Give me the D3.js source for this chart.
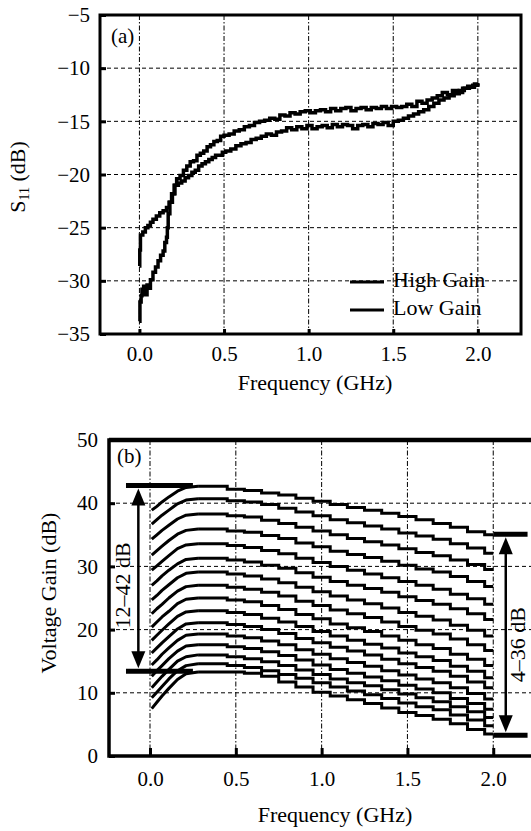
<!DOCTYPE html>
<html>
<head>
<meta charset="utf-8">
<script src="https://cdn.jsdelivr.net/npm/d3@7"></script>
<style>
  body { margin: 0; background: #fff; }
  svg { display: block; }
</style>
</head>
<body>
<div id="chart-wrapper"></div>
<script>
// ---------- panel (a): S11 ----------
const legendLabels = ["High Gain", "Low Gain"];
const s11Ticks = [-35, -30, -25, -20, -15, -10, -5];
const freqTicks = [0, 0.5, 1.0, 1.5, 2.0];

// upper trace
const highFreq = [0, 0.002, 0.006, 0.02, 0.035, 0.05, 0.065, 0.08, 0.1, 0.12, 0.14, 0.16, 0.175, 0.19, 0.205,
  0.22, 0.24, 0.26, 0.28, 0.3, 0.32, 0.34, 0.36, 0.38, 0.4, 0.42, 0.44, 0.46, 0.48, 0.5, 0.53, 0.56, 0.59,
  0.62, 0.65, 0.68, 0.71, 0.74, 0.77, 0.8, 0.83, 0.86, 0.89, 0.92, 0.95, 0.98, 1.01, 1.04, 1.07, 1.1, 1.13,
  1.16, 1.19, 1.22, 1.25, 1.28, 1.31, 1.34, 1.37, 1.4, 1.43, 1.46, 1.49, 1.52, 1.55, 1.58, 1.61, 1.64, 1.67,
  1.7, 1.73, 1.76, 1.79, 1.82, 1.85, 1.88, 1.91, 1.94, 1.97, 2.0];
const highDb = [-28.6, -27.1, -25.7, -25.4, -25.0, -24.8, -24.5, -24.2, -23.9, -23.6, -23.4, -23.1, -22.6, -21.8, -21.0,
  -20.4, -20.1, -19.6, -19.2, -18.8, -18.7, -18.2, -18.0, -17.8, -17.4, -17.2, -16.9, -16.8, -16.4, -16.3, -16.2, -15.9, -15.8,
  -15.5, -15.4, -15.1, -15.0, -14.9, -14.7, -14.8, -14.4, -14.5, -14.2, -14.3, -14.1, -14.0, -14.2, -14.0, -13.9, -14.1, -13.8,
  -14.0, -13.8, -13.7, -14.0, -13.8, -13.7, -13.9, -13.7, -13.8, -13.6, -13.8, -13.6, -13.7, -13.6, -13.4, -13.6, -13.1, -13.3,
  -13.0, -12.8, -12.6, -12.3, -12.5, -12.1, -12.3, -11.9, -11.7, -11.6, -11.5];

// lower trace
const lowFreq = [0, 0.003, 0.01, 0.015, 0.025, 0.035, 0.045, 0.055, 0.065, 0.08, 0.095, 0.11, 0.125, 0.14, 0.15,
  0.16, 0.165, 0.17, 0.18, 0.195, 0.21, 0.23, 0.25, 0.27, 0.29, 0.31, 0.33, 0.35, 0.37, 0.39, 0.41, 0.43, 0.45,
  0.47, 0.49, 0.51, 0.54, 0.57, 0.6, 0.63, 0.66, 0.69, 0.72, 0.75, 0.78, 0.81, 0.84, 0.87, 0.9, 0.93, 0.96,
  0.99, 1.02, 1.05, 1.08, 1.11, 1.14, 1.17, 1.2, 1.23, 1.26, 1.29, 1.32, 1.35, 1.38, 1.41, 1.44, 1.47, 1.5,
  1.53, 1.56, 1.59, 1.62, 1.65, 1.68, 1.71, 1.74, 1.77, 1.8, 1.83, 1.86, 1.89, 1.92, 1.95, 1.98, 2.0];
const lowDb = [-33.8, -32.0, -31.4, -30.8, -30.5, -31.3, -30.4, -30.7, -29.9, -29.2, -28.7, -28.1, -27.6, -27.2, -26.4,
  -25.9, -25.0, -23.7, -22.6, -21.8, -21.0, -20.8, -20.6, -20.3, -20.1, -19.8, -19.6, -19.2, -19.0, -18.8, -18.6, -18.4, -18.2,
  -18.2, -17.9, -17.8, -17.6, -17.3, -17.1, -17.0, -16.7, -16.6, -16.4, -16.2, -16.3, -16.0, -15.9, -15.6, -15.8, -15.5, -15.7,
  -15.4, -15.7, -15.5, -15.4, -15.6, -15.3, -15.5, -15.3, -15.4, -15.7, -15.4, -15.3, -15.5, -15.2, -15.3, -15.1, -15.4, -15.0,
  -14.9, -14.7, -14.5, -14.3, -14.1, -13.9, -13.6, -13.3, -13.0, -12.8, -12.6, -12.4, -12.1, -11.9, -11.8, -11.5, -11.4];

// ---------- panel (b): voltage gain ----------
const gainTicks = [0, 10, 20, 30, 40, 50];
const gainFreq = [0.01, 0.04, 0.07, 0.11, 0.16, 0.21, 0.28, 0.4, 0.5, 0.6, 0.7, 0.8, 0.9, 1.0,
  1.1, 1.2, 1.3, 1.4, 1.5, 1.6, 1.7, 1.8, 1.9, 2.0];
const gainCurves = [
  [38.9, 39.5, 40.2, 41.0, 41.9, 42.5, 42.7, 42.7, 42.2, 42.0, 41.6, 41.3, 40.8, 40.3, 39.8, 39.3, 38.9, 38.4, 37.9, 37.4, 36.8, 36.2, 35.5, 35.0],
  [36.7, 37.4, 38.1, 38.9, 39.9, 40.5, 40.7, 40.7, 40.4, 40.2, 39.8, 39.2, 38.6, 38.0, 37.4, 36.9, 36.4, 35.9, 35.3, 34.8, 34.3, 33.6, 32.9, 32.1],
  [34.3, 35.0, 35.7, 36.5, 37.5, 38.1, 38.3, 38.3, 38.0, 37.8, 37.3, 36.8, 36.2, 35.6, 35.0, 34.4, 33.9, 33.4, 32.8, 32.2, 31.7, 31.0, 30.3, 29.5],
  [31.8, 32.5, 33.2, 34.1, 35.1, 35.7, 35.9, 35.9, 35.6, 35.4, 34.9, 34.4, 33.7, 33.1, 32.4, 31.9, 31.4, 30.8, 30.2, 29.6, 29.1, 28.4, 27.6, 26.8],
  [29.4, 30.1, 30.8, 31.7, 32.8, 33.4, 33.6, 33.6, 33.3, 33.0, 32.5, 32.0, 31.3, 30.6, 30.0, 29.4, 28.8, 28.2, 27.6, 27.0, 26.4, 25.6, 24.9, 24.0],
  [27.0, 27.7, 28.5, 29.4, 30.4, 31.1, 31.3, 31.3, 31.0, 30.7, 30.2, 29.7, 29.0, 28.3, 27.6, 27.0, 26.5, 25.9, 25.2, 24.6, 24.0, 23.3, 22.5, 21.6],
  [24.7, 25.4, 26.2, 27.1, 28.2, 28.9, 29.1, 29.1, 28.8, 28.5, 28.0, 27.4, 26.7, 26.0, 25.3, 24.7, 24.1, 23.4, 22.7, 22.1, 21.5, 20.7, 19.9, 19.0],
  [22.5, 23.3, 24.0, 25.0, 26.1, 26.8, 27.0, 27.0, 26.7, 26.4, 25.9, 25.3, 24.5, 23.8, 23.1, 22.5, 21.9, 21.2, 20.5, 19.9, 19.3, 18.5, 17.6, 16.7],
  [20.4, 21.2, 22.0, 22.9, 24.1, 24.8, 25.0, 25.0, 24.7, 24.4, 23.8, 23.2, 22.4, 21.7, 20.9, 20.3, 19.7, 19.0, 18.3, 17.6, 17.0, 16.1, 15.3, 14.3],
  [18.3, 19.1, 19.9, 20.9, 22.1, 22.8, 23.0, 23.0, 22.7, 22.4, 21.8, 21.2, 20.5, 19.7, 19.0, 18.3, 17.7, 17.1, 16.3, 15.7, 15.1, 14.2, 13.4, 12.4],
  [16.3, 17.1, 17.9, 18.9, 20.1, 20.9, 21.1, 21.1, 20.8, 20.5, 20.0, 19.4, 18.6, 17.9, 17.2, 16.6, 16.0, 15.3, 14.6, 14.0, 13.4, 12.6, 11.7, 10.8],
  [14.4, 15.2, 16.1, 17.1, 18.3, 19.1, 19.3, 19.3, 19.0, 18.7, 18.2, 17.6, 16.8, 16.1, 15.4, 14.8, 14.2, 13.5, 12.8, 12.2, 11.6, 10.8, 9.9, 9.0],
  [12.6, 13.5, 14.3, 15.4, 16.6, 17.4, 17.6, 17.6, 17.3, 17.0, 16.5, 15.9, 15.2, 14.4, 13.7, 13.1, 12.5, 11.9, 11.2, 10.6, 10.0, 9.1, 8.3, 7.4],
  [10.8, 11.7, 12.6, 13.7, 15.0, 15.7, 16.0, 16.0, 15.7, 15.4, 14.9, 14.3, 13.6, 12.9, 12.2, 11.6, 11.1, 10.5, 9.8, 9.2, 8.6, 7.8, 7.0, 6.1],
  [9.2, 10.1, 11.0, 12.2, 13.5, 14.3, 14.6, 14.6, 14.3, 14.0, 13.5, 12.9, 12.3, 11.6, 10.9, 10.3, 9.7, 9.1, 8.4, 7.8, 7.3, 6.5, 5.7, 4.8],
  [7.5, 8.5, 9.5, 10.7, 12.1, 13.0, 13.3, 13.3, 13.3, 13.1, 12.6, 11.7, 10.9, 10.1, 9.5, 8.9, 8.3, 7.6, 6.9, 6.4, 5.8, 5.1, 4.2, 3.5]
];
// index where the rising part ends (peak)
const peakIndex = 6;
// range markers: horizontal bars and double arrows
const barFrom = [-0.14, -0.14, 2.0, 2.0];
const barTo = [0.25, 0.25, 2.2, 2.2];
const barGain = [42.8, 13.4, 35.1, 3.3];
const arrowFreq = [-0.068, 2.073];
const arrowLow = [13.4, 3.3];
const arrowHigh = [42.8, 35.1];
const arrowLabels = ["12\u201342 dB", "4\u201336 dB"];
const arrowLabelGain = [27.0, 17.6];

const svg = d3.select("#chart-wrapper").append("svg")
  .attr("width", 531)
  .attr("height", 831);

const serif = "'Liberation Serif', 'Times New Roman', Times, serif";
const tickFont = "21px";
const labelFont = "22px";

function addText(g, size) {
  return g.append("text")
    .style("font-family", serif)
    .style("font-size", size)
    .attr("fill", "#000");
}

function drawGrid(g, xScale, yScale, yGrid, box) {
  g.selectAll(".vgrid").data(freqTicks).join("line")
    .attr("x1", d => xScale(d)).attr("x2", d => xScale(d))
    .attr("y1", box.top).attr("y2", box.bottom)
    .attr("stroke", "#000").attr("stroke-width", 1)
    .attr("stroke-dasharray", "5,2,1.5,2");
  g.selectAll(".hgrid").data(yGrid).join("line")
    .attr("x1", box.left).attr("x2", box.right)
    .attr("y1", d => yScale(d)).attr("y2", d => yScale(d))
    .attr("stroke", "#000").attr("stroke-width", 1)
    .attr("stroke-dasharray", "4,3");
}

function styleAxis(g) {
  g.attr("font-family", null).attr("font-size", null);
  g.select(".domain").remove();
  g.selectAll(".tick line").attr("stroke", "#000").attr("stroke-width", 3);
  g.selectAll(".tick text").attr("fill", "#000")
    .style("font-family", serif)
    .style("font-size", tickFont);
}

// ===== panel (a) =====
const boxA = { left: 100, right: 521, top: 15, bottom: 334 };
const xA = d3.scaleLinear().domain([-0.233, 2.255]).range([boxA.left, boxA.right]);
const yA = d3.scaleLinear().domain([-35, -5]).range([boxA.bottom, boxA.top]);
const gA = svg.append("g");

drawGrid(gA, xA, yA, s11Ticks.slice(1, -1), boxA);

gA.append("g").attr("transform", `translate(${boxA.left},0)`)
  .call(d3.axisLeft(yA).tickValues(s11Ticks).tickSizeInner(-6).tickSizeOuter(0).tickPadding(10))
  .call(styleAxis);
gA.append("g").attr("transform", `translate(0,${boxA.bottom})`)
  .call(d3.axisBottom(xA).tickValues(freqTicks).tickFormat(d3.format(".1f"))
    .tickSizeInner(-5).tickSizeOuter(0).tickPadding(12))
  .call(styleAxis);

const lineA = d3.line().curve(d3.curveStepAfter)
  .x(d => xA(d[0])).y(d => yA(d[1]));
const s11Series = [d3.zip(highFreq, highDb), d3.zip(lowFreq, lowDb)];
gA.selectAll(".s11").data(s11Series).join("path")
  .attr("d", lineA)
  .attr("fill", "none").attr("stroke", "#000")
  .attr("stroke-width", 3.5);

gA.append("rect")
  .attr("x", boxA.left).attr("y", boxA.top)
  .attr("width", boxA.right - boxA.left).attr("height", boxA.bottom - boxA.top)
  .attr("fill", "none").attr("stroke", "#000").attr("stroke-width", 3);

// legend
const legend = gA.selectAll(".legend").data(legendLabels).join("g")
  .attr("transform", (d, i) => `translate(350,${282 + i * 28})`);
legend.append("line").attr("x1", 0).attr("x2", 34)
  .attr("stroke", "#000").attr("stroke-width", 3);
legend.each(function (d) {
  addText(d3.select(this), labelFont).attr("x", 43).attr("y", 5).text(d);
});

addText(gA, tickFont).attr("x", 111).attr("y", 43).text("(a)");

addText(gA, labelFont).attr("x", 315).attr("y", 390)
  .attr("text-anchor", "middle")
  .text("Frequency (GHz)");

const yLabelA = addText(gA, labelFont)
  .attr("transform", "translate(25,177) rotate(-90)")
  .attr("text-anchor", "middle");
yLabelA.append("tspan").text("S");
yLabelA.append("tspan").attr("dy", 4).style("font-size", "14px").text("11");
yLabelA.append("tspan").attr("dy", -4).text(" (dB)");

// ===== panel (b) =====
const boxB = { left: 109, right: 537, top: 440, bottom: 756 };
const xB = d3.scaleLinear().domain([-0.239, 2.255]).range([boxB.left, boxB.right]);
const yB = d3.scaleLinear().domain([0, 50]).range([boxB.bottom, boxB.top]);
const gB = svg.append("g");

drawGrid(gB, xB, yB, gainTicks.slice(1, -1), boxB);

gB.append("g").attr("transform", `translate(${boxB.left},0)`)
  .call(d3.axisLeft(yB).tickValues(gainTicks).tickSizeInner(-6).tickSizeOuter(0).tickPadding(11))
  .call(styleAxis);
gB.append("g").attr("transform", `translate(0,${boxB.bottom})`)
  .call(d3.axisBottom(xB).tickValues(freqTicks).tickFormat(d3.format(".1f"))
    .tickSizeInner(-8).tickSizeOuter(0).tickPadding(15))
  .call(styleAxis);

// rising part drawn straight, falling part as small steps
const riseLine = d3.line()
  .x((d, i) => xB(gainFreq[i])).y(d => yB(d));
const fallLine = d3.line().curve(d3.curveStep)
  .x((d, i) => xB(gainFreq[i + peakIndex])).y(d => yB(d));
gB.selectAll(".gain-rise").data(gainCurves).join("path")
  .attr("d", d => riseLine(d.slice(0, peakIndex + 1)))
  .attr("fill", "none").attr("stroke", "#000").attr("stroke-width", 3)
  .attr("stroke-linejoin", "round");
gB.selectAll(".gain-fall").data(gainCurves).join("path")
  .attr("d", d => fallLine(d.slice(peakIndex)))
  .attr("fill", "none").attr("stroke", "#000").attr("stroke-width", 3);

// frame (right side lies outside the picture)
gB.append("rect")
  .attr("x", boxB.left).attr("y", boxB.top)
  .attr("width", boxB.right - boxB.left).attr("height", boxB.bottom - boxB.top)
  .attr("fill", "none").attr("stroke", "#000").attr("stroke-width", 3.5);
gB.append("line")
  .attr("x1", boxB.left).attr("x2", boxB.right)
  .attr("y1", boxB.top).attr("y2", boxB.top)
  .attr("stroke", "#000").attr("stroke-width", 4.5);

// range bars
gB.selectAll(".bar").data(barGain).join("line")
  .attr("x1", (d, i) => xB(barFrom[i])).attr("x2", (d, i) => xB(barTo[i]))
  .attr("y1", d => yB(d)).attr("y2", d => yB(d))
  .attr("stroke", "#000").attr("stroke-width", 5);

// double arrows
const arrows = gB.selectAll(".arrow").data(arrowFreq).join("g");
arrows.append("line")
  .attr("x1", d => xB(d)).attr("x2", d => xB(d))
  .attr("y1", (d, i) => yB(arrowHigh[i]) + 10).attr("y2", (d, i) => yB(arrowLow[i]) - 10)
  .attr("stroke", "#000").attr("stroke-width", 2.5);
arrows.append("path")
  .attr("d", (d, i) => {
    const x = xB(d), y = yB(arrowHigh[i]) + 3;
    return `M${x},${y}L${x - 7},${y + 17}L${x + 7},${y + 17}Z`;
  });
arrows.append("path")
  .attr("d", (d, i) => {
    const x = xB(d), y = yB(arrowLow[i]) - 3;
    return `M${x},${y}L${x - 7},${y - 17}L${x + 7},${y - 17}Z`;
  });
arrows.each(function (d, i) {
  const x = i === 0 ? xB(d) - 8 : xB(d) + 19;
  addText(d3.select(this), labelFont)
    .attr("transform", `translate(${x},${yB(arrowLabelGain[i])}) rotate(-90)`)
    .attr("text-anchor", "middle")
    .text(arrowLabels[i]);
});

addText(gB, tickFont).attr("x", 117).attr("y", 463).text("(b)");

addText(gB, labelFont).attr("x", 335).attr("y", 822)
  .attr("text-anchor", "middle")
  .text("Frequency (GHz)");

addText(gB, labelFont)
  .attr("transform", "translate(56,593) rotate(-90)")
  .attr("text-anchor", "middle")
  .text("Voltage Gain (dB)");
</script>
</body>
</html>
